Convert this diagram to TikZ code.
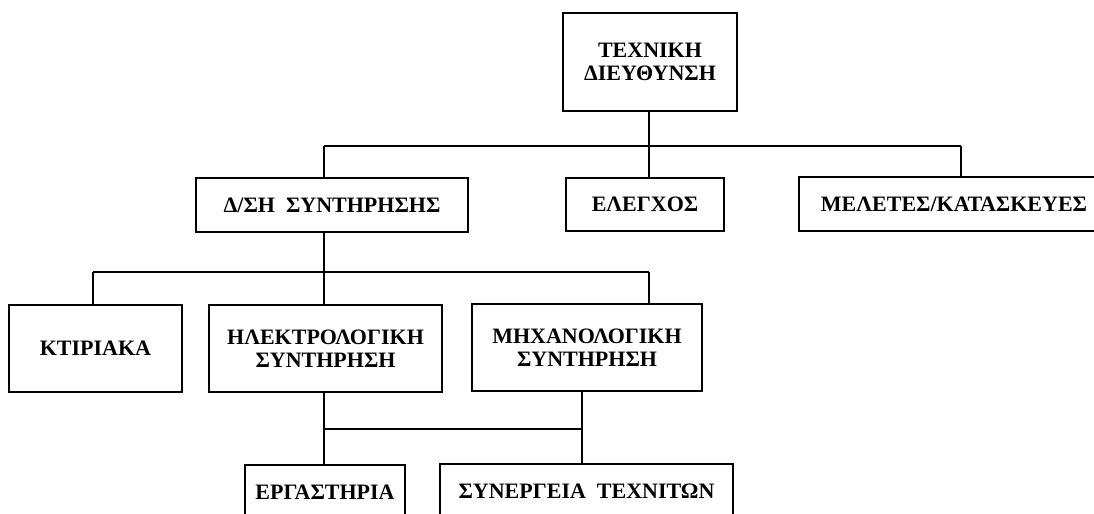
\documentclass[tikz,border=0pt]{standalone}
\usepackage{fontspec}
\setmainfont{Liberation Serif}
\begin{document}
\begin{tikzpicture}[x=0.5pt,y=-0.5pt,line width=1pt,
  unit/.style={draw,line width=1pt,align=center,inner sep=0pt,
    font=\fontsize{11}{11.5}\selectfont\bfseries}]
\useasboundingbox (0,0) rectangle (1094,514);
\clip (0,0) rectangle (1094,514);
\node[unit,minimum width=87pt,minimum height=49pt] (TD) at (650,62) {ΤΕΧΝΙΚΗ\\ΔΙΕΥΘΥΝΣΗ};
\node[unit,minimum width=136pt,minimum height=27pt] (DS) at (332,205) {Δ/ΣΗ\ \ ΣΥΝΤΗΡΗΣΗΣ};
\node[unit,minimum width=79pt,minimum height=26.5pt] (EL) at (645,204.5) {ΕΛΕΓΧΟΣ};
\node[unit,minimum width=155pt,minimum height=27pt] (MK) at (954,204) {ΜΕΛΕΤΕΣ/ΚΑΤΑΣΚΕΥΕΣ};
\node[unit,minimum width=86.5pt,minimum height=43.5pt] (KT) at (95.5,348.5) {ΚΤΙΡΙΑΚΑ};
\node[unit,minimum width=116.5pt,minimum height=43.5pt] (HS) at (325.5,348.5) {ΗΛΕΚΤΡΟΛΟΓΙΚΗ\\ΣΥΝΤΗΡΗΣΗ};
\node[unit,minimum width=115pt,minimum height=43.5pt] (MS) at (587,347.5) {ΜΗΧΑΝΟΛΟΓΙΚΗ\\ΣΥΝΤΗΡΗΣΗ};
\node[unit,minimum width=80pt,minimum height=27pt] (ER) at (325,492) {ΕΡΓΑΣΤΗΡΙΑ};
\node[unit,minimum width=146.5pt,minimum height=27.5pt] (ST) at (586.5,491.5) {ΣΥΝΕΡΓΕΙΑ\ \ ΤΕΧΝΙΤΩΝ};

% bus under the director
\coordinate (B1) at (324,146);
\coordinate (B2) at (649,146);
\coordinate (B3) at (961,146);
\draw (TD.south -| B2) -- (B2);
\draw (B1) -- (B3);
\draw (B1) -- (B1 |- DS.north);
\draw (B2) -- (B2 |- EL.north);
\draw (B3) -- (B3 |- MK.north);

% maintenance units
\coordinate (C1) at (93,272);
\coordinate (C2) at (324,272);
\coordinate (C3) at (649,272);
\draw (C2 |- DS.south) -- (C2);
\draw (C1) -- (C3);
\draw (C1) -- (C1 |- KT.north);
\draw (C2) -- (C2 |- HS.north);
\draw (C3) -- (C3 |- MS.north);

% workshops
\coordinate (D1) at (324,429);
\coordinate (D2) at (582,429);
\draw (D1 |- HS.south) -- (D1 |- ER.north);
\draw (D2 |- MS.south) -- (D2 |- ST.north);
\draw (D1) -- (D2);
\end{tikzpicture}
\end{document}
